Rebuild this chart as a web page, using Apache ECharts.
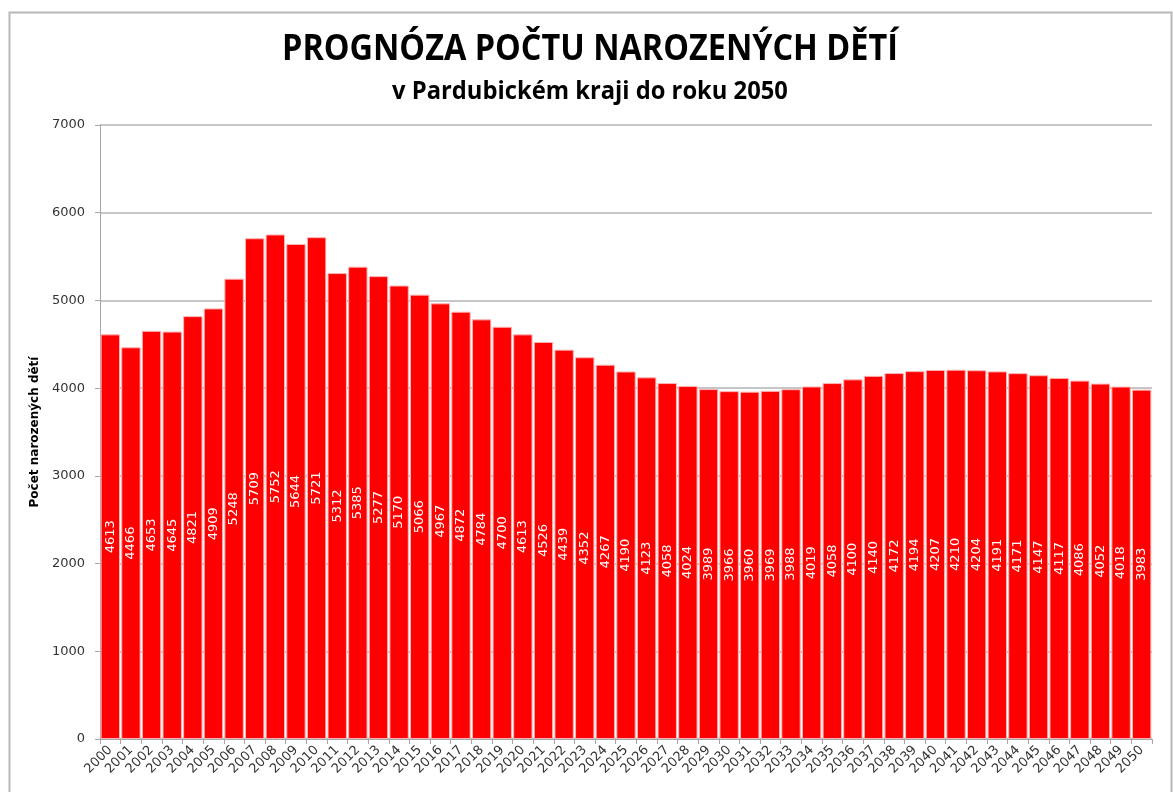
<!DOCTYPE html>
<html><head><meta charset="utf-8">
<script src="https://cdn.jsdelivr.net/npm/echarts@6/dist/echarts.min.js"></script>
<style>html,body{margin:0;padding:0;background:#fff}#c{width:1173px;height:792px}</style>
</head><body><div id="c"></div>
<script>
const years = ["2000","2001","2002","2003","2004","2005","2006","2007","2008","2009","2010","2011","2012","2013","2014","2015","2016","2017","2018","2019","2020","2021","2022","2023","2024","2025","2026","2027","2028","2029","2030","2031","2032","2033","2034","2035","2036","2037","2038","2039","2040","2041","2042","2043","2044","2045","2046","2047","2048","2049","2050"];
const births = [4613,4466,4653,4645,4821,4909,5248,5709,5752,5644,5721,5312,5385,5277,5170,5066,4967,4872,4784,4700,4613,4526,4439,4352,4267,4190,4123,4058,4024,3989,3966,3960,3969,3988,4019,4058,4100,4140,4172,4194,4207,4210,4204,4191,4171,4147,4117,4086,4052,4018,3983];
const titleText = "PROGNÓZA POČTU NAROZENÝCH DĚTÍ";
const subtitleText = "v Pardubickém kraji do roku 2050";
const yAxisName = "Počet narozených dětí";

const chart = echarts.init(document.getElementById('c'), null, {renderer:'canvas'});
chart.setOption({
  animation:false,
  backgroundColor:'#fff',
  graphic:[
    {type:'rect',shape:{x:9.5,y:12.5,width:1162,height:790},style:{fill:'none',stroke:'#b8b8b8',lineWidth:2}},
    {type:'text',x:590,y:32,scaleX:0.9,originX:0,style:{text:titleText,font:'bold 36px "Open Sans"',fill:'#000',textAlign:'center',textVerticalAlign:'top'}},
    {type:'text',x:590,y:79,scaleX:0.95,originX:0,style:{text:subtitleText,font:'bold 25px "Open Sans"',fill:'#000',textAlign:'center',textVerticalAlign:'top'}}
  ],
  grid:{left:100,right:21,top:125,bottom:53,containLabel:false},
  xAxis:{type:'category',data:years,
    axisLine:{lineStyle:{color:'#a6a6a6',width:1}},
    axisTick:{show:true,interval:0,length:5,lineStyle:{color:'#a6a6a6'}},
    axisLabel:{interval:0,rotate:45,fontFamily:'DejaVu Sans',fontSize:13,color:'#333',margin:9}},
  yAxis:{type:'value',min:0,max:7000,interval:1000,
    name:yAxisName,nameLocation:'middle',nameGap:53,nameRotate:90,
    nameTextStyle:{fontFamily:'DejaVu Sans',fontSize:12,fontWeight:'bold',color:'#000'},
    axisLine:{show:true,lineStyle:{color:'#a6a6a6',width:1}},
    axisTick:{show:true,length:5,lineStyle:{color:'#a6a6a6'}},
    axisLabel:{fontFamily:'DejaVu Sans',fontSize:13,color:'#333',margin:15,formatter:v=>String(v)},
    splitLine:{lineStyle:{color:'#b3b3b3',width:1.5}}},
  series:[{type:'bar',data:births,barCategoryGap:'6%',
    itemStyle:{color:'#ff0000',borderColor:'#ffb3b3',borderWidth:1},
    label:{show:true,position:'inside',rotate:90,color:'#fff',fontFamily:'DejaVu Sans',fontSize:13}}]
});
</script></body></html>
